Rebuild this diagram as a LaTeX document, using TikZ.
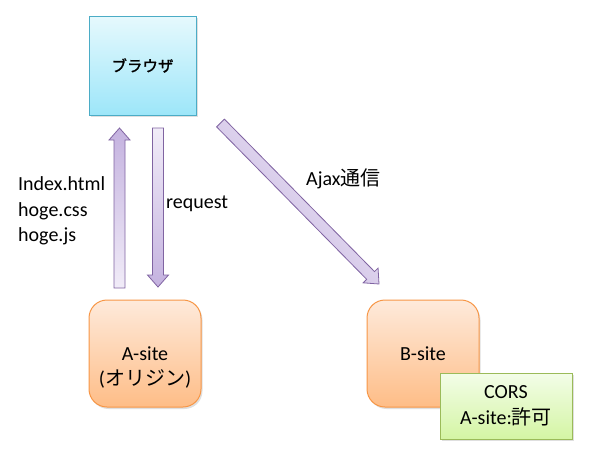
\documentclass[tikz,border=0pt]{standalone}
\usepackage{fontspec}
\setmainfont{Carlito}
\newfontfamily\jp{Noto Sans CJK JP}
\newfontfamily\jpbold[FakeBold=1.5]{Noto Sans CJK JP}
\usetikzlibrary{positioning,calc,shadows}

\definecolor{browserTop}{HTML}{E6F9FD}
\definecolor{browserBot}{HTML}{9DE6F9}
\definecolor{browserLine}{HTML}{4BACC6}
\definecolor{siteTop}{HTML}{FEEADB}
\definecolor{siteBot}{HTML}{FEBD87}
\definecolor{siteLine}{HTML}{F79646}
\definecolor{corsTop}{HTML}{F3FDE8}
\definecolor{corsBot}{HTML}{D4F5A4}
\definecolor{corsLine}{HTML}{9BBB59}
\definecolor{arrowLight}{HTML}{F1ECF8}
\definecolor{arrowDark}{HTML}{C4B2DF}
\definecolor{arrowLine}{HTML}{8064A2}

\tikzstyle{boxshadow} = [drop shadow={shadow xshift=1.5pt, shadow yshift=-2pt, opacity=0.25}]
\tikzstyle{browser} = [rectangle, minimum width=107pt, minimum height=99pt, draw=browserLine, line width=0.9pt, top color=browserTop, bottom color=browserBot, boxshadow, font=\jpbold\fontsize{15.5}{18}\selectfont]
\tikzstyle{site} = [rectangle, rounded corners=18pt, minimum width=112pt, minimum height=107pt, draw=siteLine, line width=1pt, top color=siteTop, bottom color=siteBot, boxshadow]
\tikzstyle{cors} = [rectangle, minimum width=132pt, minimum height=66pt, draw=corsLine, line width=0.9pt, top color=corsTop, bottom color=corsBot, boxshadow, align=center]
\tikzstyle{txt} = [inner sep=0pt, font=\fontsize{20}{25.5}\selectfont]
\tikzstyle{fat} = [draw=arrowLine, line width=0.8pt, line join=miter]

% block arrow: #1 tail, #2 tip, #3 shading
\newcommand{\fatarrow}[3]{%
  \coordinate (#1h) at ($(#2)!12pt!(#1)$);
  \path[fat, #3] ($(#1)!5.5pt!90:(#2)$) -- ($(#1h)!5.5pt!90:(#2)$) -- ($(#1h)!10.5pt!90:(#2)$)
    -- (#2) -- ($(#1h)!10.5pt!-90:(#2)$) -- ($(#1h)!5.5pt!-90:(#2)$) -- ($(#1)!5.5pt!-90:(#2)$) -- cycle;
}

\begin{document}
\begin{tikzpicture}[x=1pt, y=-1pt, node distance=288pt]
\useasboundingbox (0,0) rectangle (591,456);
\tikzset{every node/.append style={font=\fontsize{20}{25.5}\selectfont}}

%boxes
\node (browser) [browser] at (142.5,65.5) {ブラウザ};
\node (Asite) [site, below of=browser, xshift=2.5pt,
  label={[txt, align=center, yshift=-14pt]center:A-site\\({\jp オリジン})}] {};
\node (Bsite) [site, right of=Asite, xshift=-10pt] {B-site};
\node (CORS) [cors] at ($(Bsite)+(83,52.5)$) {CORS\\A-site:{\jp 許可}};

%arrow ends
\coordinate (upS) at (119.5,288);
\coordinate (upE) at (119.5,128);
\coordinate (downS) at (158,128);
\coordinate (downE) at (158,287);
\coordinate (ajaxS) at (220.5,123);
\coordinate (ajaxE) at (379,284);

%arrows
\fatarrow{upS}{upE}{top color=arrowDark, bottom color=arrowLight}
\fatarrow{downS}{downE}{top color=arrowLight, bottom color=arrowDark}
\fatarrow{ajaxS}{ajaxE}{top color=arrowLight, bottom color=arrowDark, shading angle=-45}

%labels
\node (files) [txt, align=left, anchor=west] at (18,211) {Index.html\\hoge.css\\hoge.js};
\node (request) [txt, anchor=west] at (166,204) {request};
\node (ajax) [txt, anchor=west] at (306,179) {Ajax{\jp 通信}};

\end{tikzpicture}
\end{document}
